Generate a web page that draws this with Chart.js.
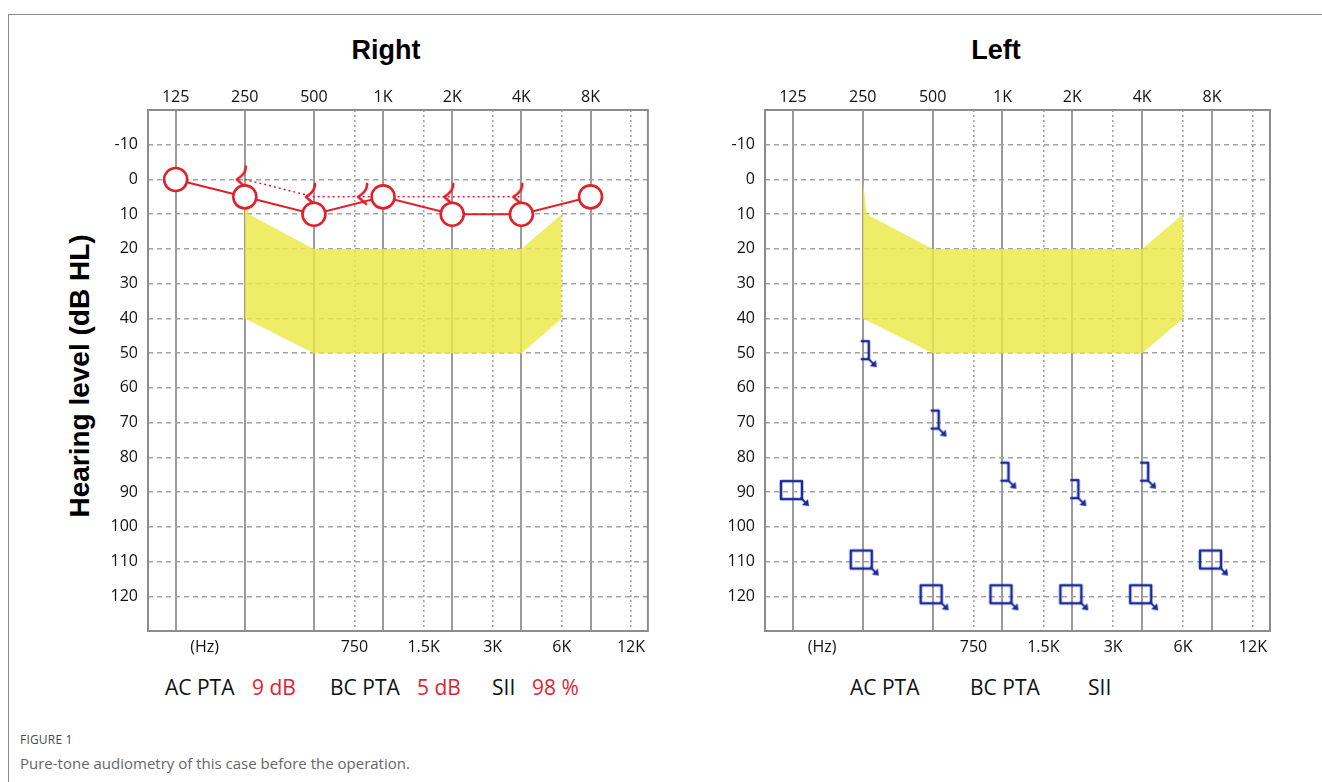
<!DOCTYPE html>
<html>
<head>
<meta charset="utf-8">
<title>Pure-tone audiometry</title>
<script src="https://cdn.jsdelivr.net/npm/chart.js@4.4.1/dist/chart.umd.min.js"></script>
<style>
    body { margin: 0; background: #fff; width: 1322px; height: 782px; position: relative; overflow: hidden; font-family: 'Open Sans', sans-serif; }
    .frame { position: absolute; left: 8px; top: 14px; width: 1320px; height: 780px; border-left: 1px solid #8a8a8a; border-top: 1px solid #8a8a8a; }
    .wrap { position: absolute; top: 60px; height: 611px; }
    .title { position: absolute; top: 50px; transform: translate(-50%, -50%); font: bold 27px 'Liberation Sans', Arial, sans-serif; line-height: 1; color: #000; }
    .ytitle { position: absolute; left: 80px; top: 376px; transform: translate(-50%, -50%) rotate(-90deg); white-space: nowrap; font: bold 28px 'Liberation Sans', Arial, sans-serif; line-height: 1; color: #000; }
    .stat { position: absolute; top: 675px; font-size: 21px; line-height: 24px; color: #111; white-space: nowrap; }
    .stat.val { color: #e0252f; }
    .fig { position: absolute; left: 20px; top: 733px; font-size: 12px; line-height: 14px; color: #4a4a4a; letter-spacing: 0.2px; }
    .caption { position: absolute; left: 20px; top: 754px; font-size: 15px; line-height: 18px; color: #666; }
</style>
</head>
<body>
<div class="frame"></div>
<div class="title" style="left:386px">Right</div>
<div class="title" style="left:996px">Left</div>
<div class="ytitle">Hearing level (dB HL)</div>

<div class="wrap" style="left:88px;width:574px"><canvas id="rightChart"></canvas></div>
<div class="wrap" style="left:705px;width:575px"><canvas id="leftChart"></canvas></div>

<span class="stat" style="left:165px">AC PTA</span>
<span class="stat val" style="left:252px">9 dB</span>
<span class="stat" style="left:330px">BC PTA</span>
<span class="stat val" style="left:417px">5 dB</span>
<span class="stat" style="left:492px">SII</span>
<span class="stat val" style="left:532px">98 %</span>

<span class="stat" style="left:850px">AC PTA</span>
<span class="stat" style="left:970px">BC PTA</span>
<span class="stat" style="left:1088px">SII</span>

<div class="fig">FIGURE 1</div>
<div class="caption">Pure-tone audiometry of this case before the operation.</div>

<script>
// Audiogram: frequency on a log axis, hearing level (dB HL) downwards

const freqs = [125, 250, 500, 1000, 2000, 4000, 8000];
const topLabels = ['125', '250', '500', '1K', '2K', '4K', '8K'];
// first slot only carries the "(Hz)" unit tag under the axis
const halfFreqs = [167, 750, 1500, 3000, 6000, 12000];
const bottomLabels = ['(Hz)', '750', '1.5K', '3K', '6K', '12K'];
const dbTicks = [-10, 0, 10, 20, 30, 40, 50, 60, 70, 80, 90, 100, 110, 120];

// right ear: air conduction (O) and bone conduction (<)
const rightAC = [0, 5, 10, 5, 10, 10, 5];
const bcFreqs = [250, 500, 1000, 2000, 4000];
const rightBC = [0, 5, 5, 5, 5];

// left ear: masked air (square) and masked bone ( ] ), no response
const leftAC = [90, 110, 120, 120, 120, 120, 110];
const leftBC = [50, 70, 85, 90, 85];

// speech banana outline
const bananaTopFreqs = [250, 260, 500, 4000, 6000];
const bananaTop = [0, 10, 20, 20, 10];
const bananaBottomFreqs = [250, 500, 4000, 6000];
const bananaBottom = [40, 50, 50, 40];

const red = '#e0202a';
const blue = '#1a2a9c';
const fMin = 125 / Math.pow(2, 0.4);
const fMax = 125 * Math.pow(2, 6.83);
const tickFont = { family: "'Open Sans', sans-serif", size: 16 };
const tickColor = '#111';
const clear = 'rgba(0,0,0,0)';

function pts(xs, ys) {
    return xs.map((x, i) => ({ x: x, y: ys[i] }));
}

function makeSymbol(draw, w, h) {
    const c = document.createElement('canvas');
    c.width = w;
    c.height = h;
    const g = c.getContext('2d');
    g.translate(w / 2, h / 2);
    g.lineJoin = 'round';
    g.lineCap = 'round';
    draw(g);
    return c;
}

function bcRightSymbol(dx) {
    return makeSymbol(g => {
        g.strokeStyle = red;
        g.lineWidth = 2.6;
        g.beginPath();
        g.moveTo(dx + 2, -13);
        g.quadraticCurveTo(dx + 2, -7, dx - 3, -3);
        g.lineTo(dx - 7, 0);
        g.lineTo(dx + 1, 7);
        g.stroke();
    }, 70, 40);
}

function noResponseArrow(g, x, y) {
    g.lineWidth = 2;
    g.beginPath();
    g.moveTo(x, y);
    g.lineTo(x + 4, y + 4);
    g.stroke();
    g.beginPath();
    g.moveTo(x + 8, y + 8);
    g.lineTo(x + 1, y + 7);
    g.lineTo(x + 7, y + 1);
    g.closePath();
    g.fill();
}

const bcNear = bcRightSymbol(-1);
const bcFar = bcRightSymbol(-18);

const acLeftSymbol = makeSymbol(g => {
    g.strokeStyle = blue;
    g.fillStyle = blue;
    g.lineWidth = 2.6;
    g.strokeRect(-12, -11, 21, 18);
    noResponseArrow(g, 8, 6);
}, 48, 48);

const bcLeftSymbol = makeSymbol(g => {
    g.strokeStyle = blue;
    g.fillStyle = blue;
    g.lineWidth = 2.6;
    g.beginPath();
    g.moveTo(-1, -12);
    g.lineTo(6, -12);
    g.lineTo(6, 6);
    g.lineTo(-1, 6);
    g.stroke();
    noResponseArrow(g, 6, 6);
}, 48, 48);

const plotFrame = {
    id: 'plotFrame',
    beforeDatasetsDraw(chart) {
        const { ctx, chartArea: a } = chart;
        ctx.save();
        ctx.strokeStyle = '#8c8c8c';
        ctx.lineWidth = 2;
        ctx.strokeRect(a.left, a.top, a.right - a.left, a.bottom - a.top);
        ctx.restore();
    }
};

function bananaSets() {
    return [
        {
            data: pts(bananaBottomFreqs, bananaBottom),
            borderWidth: 0, pointRadius: 0, fill: false, order: 10
        },
        {
            data: pts(bananaTopFreqs, bananaTop),
            borderWidth: 0, pointRadius: 0, order: 9,
            fill: '-1', backgroundColor: 'rgba(236, 232, 70, 0.82)'
        }
    ];
}

function buildAudiogram(canvasId, datasets) {
    datasets.forEach(d => { d.xAxisID = 'xTop'; d.yAxisID = 'y'; d.tension = 0; });
    return new Chart(document.getElementById(canvasId), {
        type: 'line',
        data: { datasets: datasets },
        options: {
            responsive: true,
            maintainAspectRatio: false,
            animation: false,
            events: [],
            layout: { padding: { right: 10 } },
            plugins: { legend: { display: false }, tooltip: { enabled: false } },
            scales: {
                xTop: {
                    type: 'logarithmic',
                    position: 'top',
                    min: fMin,
                    max: fMax,
                    afterBuildTicks: s => { s.ticks = freqs.map(v => ({ value: v })); },
                    afterFit: s => { s.height = 50; },
                    ticks: {
                        autoSkip: false, maxRotation: 0, padding: 3,
                        color: tickColor, font: tickFont,
                        callback: (v, i) => topLabels[i]
                    },
                    grid: { color: '#9b9b9b', lineWidth: 2, drawTicks: false },
                    border: { display: false }
                },
                xBot: {
                    type: 'logarithmic',
                    position: 'bottom',
                    min: fMin,
                    max: fMax,
                    afterBuildTicks: s => { s.ticks = halfFreqs.map(v => ({ value: v })); },
                    afterFit: s => { s.height = 40; },
                    ticks: {
                        autoSkip: false, maxRotation: 0, padding: 7,
                        color: tickColor, font: tickFont,
                        callback: (v, i) => bottomLabels[i]
                    },
                    grid: {
                        color: c => c.index === 0 ? clear : '#a3a3a3',
                        lineWidth: 1.6, drawTicks: false
                    },
                    border: { display: false, dash: [2, 3] }
                },
                y: {
                    type: 'linear',
                    reverse: true,
                    min: -20,
                    max: 130,
                    afterBuildTicks: s => { s.ticks = dbTicks.map(v => ({ value: v })); },
                    afterFit: s => { s.width = 60; },
                    ticks: { padding: 10, color: tickColor, font: tickFont },
                    grid: { color: '#a3a3a3', lineWidth: 1.5, drawTicks: false },
                    border: { display: false, dash: [5, 4] }
                }
            }
        },
        plugins: [plotFrame]
    });
}

buildAudiogram('rightChart', [
    {
        label: 'AC',
        data: pts(freqs, rightAC),
        borderColor: red, borderWidth: 2,
        pointStyle: 'circle', pointRadius: 11.5, pointBorderWidth: 2.6,
        pointBorderColor: red, pointBackgroundColor: '#fff',
        order: 1
    },
    {
        label: 'BC',
        data: pts(bcFreqs, rightBC),
        borderColor: red, borderWidth: 1.5, borderDash: [2, 3],
        pointRadius: 5,
        pointStyle: c => rightAC[freqs.indexOf(bcFreqs[c.dataIndex])] === rightBC[c.dataIndex] ? bcFar : bcNear,
        order: 2
    },
    ...bananaSets()
]);

buildAudiogram('leftChart', [
    {
        label: 'AC masked',
        data: pts(freqs, leftAC),
        showLine: false, pointRadius: 5, pointStyle: acLeftSymbol,
        order: 1
    },
    {
        label: 'BC masked',
        data: pts(bcFreqs, leftBC),
        showLine: false, pointRadius: 5, pointStyle: bcLeftSymbol,
        order: 2
    },
    ...bananaSets()
]);
</script>
</body>
</html>
